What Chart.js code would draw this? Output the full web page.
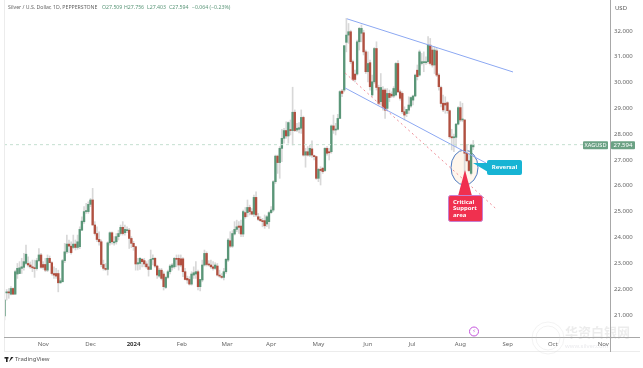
<!DOCTYPE html>
<html>
<head>
<meta charset="utf-8">
<title>XAGUSD</title>
<script src="https://cdn.jsdelivr.net/npm/chart.js@4/dist/chart.umd.js"></script>
<style>
    html, body { margin: 0; padding: 0; background: #fff; }
    canvas { display: block; }
</style>
</head>
<body>
<canvas id="candleChart" width="643" height="368"></canvas>
<script>
// Daily candles (bar 0 = early Oct 2023, last bar = Aug 2024)
const opens = [
    20.96,21.85,21.86,21.80,22.02,21.80,22.58,22.60,22.80,22.84,22.99,22.99,22.93,22.86,22.82,22.79,23.10,23.32,22.95,22.95,
    22.73,23.19,23.02,22.60,22.60,22.60,22.24,22.28,23.10,23.44,23.74,23.66,23.61,23.74,23.61,23.64,24.28,24.61,25.00,25.00,
    25.28,25.45,24.48,24.15,23.92,23.83,22.95,22.80,22.76,23.79,24.18,23.79,23.83,24.03,24.15,24.39,24.18,24.26,24.28,23.96,
    23.77,23.64,22.97,22.99,23.15,23.10,22.97,22.86,22.76,23.15,23.19,22.89,22.50,22.73,22.58,22.06,22.45,22.67,22.84,22.86,
    23.19,23.19,23.17,23.17,22.67,22.41,22.37,22.19,22.54,22.58,22.67,22.09,22.35,22.93,23.38,22.97,22.93,22.86,22.80,22.89,
    22.52,22.48,22.45,22.67,23.12,23.87,23.66,24.13,24.31,24.44,24.44,24.13,24.96,24.96,25.16,25.00,24.90,25.55,24.80,24.70,
    24.65,24.65,24.52,24.61,24.96,25.06,26.16,27.15,26.90,27.45,27.84,28.14,27.93,28.16,28.14,28.85,28.16,28.19,28.23,28.65,
    27.19,27.32,27.19,27.43,27.15,27.13,26.29,26.64,26.68,26.59,27.45,27.32,27.32,28.32,28.16,28.19,28.61,29.67,29.71,31.56,
    31.84,31.97,30.81,30.33,30.33,31.58,31.91,31.93,31.19,30.42,30.77,29.52,30.03,31.32,29.81,29.26,29.71,29.71,29.00,29.58,
    29.55,29.48,29.52,30.74,29.64,29.58,28.87,28.80,28.93,29.09,29.32,29.48,30.48,30.29,30.74,30.77,30.77,30.81,31.45,31.26,
    30.68,31.23,30.29,29.81,29.20,29.20,29.22,28.91,27.90,27.86,27.88,28.39,29.03,28.55,28.55,27.26,26.97,26.48,27.509
];
const highs = [
    21.60,21.98,22.02,22.09,22.05,22.73,22.99,23.06,23.19,23.38,23.70,23.25,23.05,23.12,23.12,23.19,23.57,23.38,23.06,23.19,
    23.32,23.28,23.06,22.86,22.80,22.73,22.41,23.15,23.77,24.09,23.90,23.83,24.09,23.90,24.09,24.41,24.80,25.19,25.32,25.38,
    25.51,25.90,24.61,24.41,24.22,23.90,23.12,22.99,23.83,24.22,24.22,24.03,24.15,24.28,24.48,24.61,24.48,24.41,24.35,24.03,
    23.85,23.66,23.19,23.22,23.19,23.19,23.06,23.12,23.51,23.32,23.22,22.93,22.80,22.80,22.67,22.50,22.73,22.95,22.99,23.22,
    23.32,23.32,23.32,23.22,22.80,22.50,22.48,22.67,22.86,23.06,22.73,22.37,23.12,23.51,23.44,23.10,23.12,23.06,23.02,22.99,
    22.73,22.60,22.80,23.19,23.96,24.22,24.26,24.61,24.67,24.61,24.67,25.06,25.16,25.45,25.25,25.12,25.64,25.77,24.93,24.80,
    24.74,24.87,24.85,25.00,25.19,26.20,27.19,27.19,27.52,28.19,28.23,28.48,28.48,28.55,29.82,28.94,28.42,28.45,28.94,28.70,
    27.45,27.52,27.58,27.74,27.19,27.15,26.68,26.74,26.72,27.48,27.52,27.45,28.36,28.74,28.42,28.77,29.69,29.74,31.43,32.49,
    32.29,32.03,30.87,30.48,31.65,32.14,32.23,32.03,31.26,31.19,30.87,30.29,31.36,31.58,29.90,30.35,29.84,29.77,29.77,29.71,
    29.64,29.84,30.77,30.85,29.71,29.64,29.06,28.96,29.45,29.45,29.52,30.33,30.68,31.26,31.13,31.19,31.00,31.78,31.71,31.39,
    31.39,31.32,30.35,29.86,29.52,29.45,29.26,28.94,28.19,28.00,28.42,29.07,29.26,29.20,28.57,27.58,27.26,27.62,27.756
];
const lows = [
    20.80,21.57,21.64,21.77,21.78,21.80,22.41,22.60,22.60,22.73,22.93,22.86,22.80,22.67,22.45,22.73,23.06,22.80,22.76,22.67,
    22.67,23.02,22.54,22.41,22.41,21.89,22.22,22.28,23.02,23.38,23.41,23.35,23.57,23.51,23.54,23.57,24.26,24.54,24.93,24.93,
    25.19,24.48,24.09,23.83,23.70,22.86,22.73,22.71,22.54,23.70,23.74,23.70,23.74,23.90,24.09,24.09,24.09,24.18,23.57,23.60,
    23.50,22.73,22.73,22.76,22.86,22.86,22.80,22.50,22.76,22.93,22.84,22.41,22.45,22.35,21.96,22.02,22.41,22.58,22.73,22.80,
    22.86,22.73,22.86,22.48,22.35,22.22,22.15,22.15,22.41,22.41,21.96,21.93,22.28,22.89,22.89,22.89,22.80,22.73,22.76,22.50,
    22.45,22.41,22.35,22.60,23.06,23.61,23.61,24.09,24.22,24.15,24.03,24.03,24.74,24.80,24.87,24.87,24.80,24.80,24.65,24.61,
    24.41,24.35,24.42,24.35,24.93,25.00,26.09,26.48,26.29,26.93,27.65,27.84,27.65,27.97,27.58,28.10,28.10,28.05,28.03,27.15,
    26.72,27.15,27.13,27.10,27.00,26.25,26.16,26.03,26.48,26.55,27.19,27.00,27.26,28.03,27.97,28.16,28.61,29.45,29.64,31.19,
    31.52,30.74,30.07,30.03,30.29,31.26,31.58,31.07,30.35,30.03,29.71,29.45,29.97,29.71,29.13,29.13,28.93,28.61,28.93,29.26,
    29.42,29.42,29.48,29.61,29.32,28.80,28.55,28.68,28.80,29.04,29.13,29.45,30.10,30.25,30.68,30.42,30.70,30.74,30.68,30.60,
    30.35,30.23,29.71,29.06,28.87,28.81,28.81,27.84,27.39,27.32,27.52,28.36,28.48,28.48,26.22,26.93,26.55,26.42,27.403
];
const closes = [
    21.57,21.86,21.85,22.02,21.80,22.67,22.80,22.82,22.86,23.06,23.35,22.93,22.86,22.82,22.79,23.10,23.32,22.84,22.84,22.73,
    23.19,23.02,22.60,22.54,22.50,22.24,22.32,23.10,23.44,23.74,23.66,23.41,23.74,23.61,23.83,24.31,24.63,25.00,25.02,25.28,
    25.45,24.48,24.15,23.92,23.83,22.95,22.80,22.76,23.79,24.18,23.83,23.83,24.03,24.15,24.39,24.15,24.31,24.28,23.96,23.77,
    23.64,22.97,23.02,23.19,23.06,22.97,22.86,22.76,23.15,23.19,22.89,22.54,22.73,22.41,22.09,22.45,22.67,22.89,22.93,23.19,
    23.15,22.93,22.93,22.67,22.37,22.35,22.19,22.58,22.63,22.67,22.09,22.37,22.93,23.38,22.95,22.93,22.86,22.80,22.93,22.54,
    22.50,22.45,22.67,23.15,23.90,23.66,24.15,24.31,24.41,24.39,24.13,25.00,24.80,25.16,25.00,24.90,25.55,24.87,24.70,24.65,
    24.61,24.45,24.80,24.96,25.06,26.16,27.15,26.90,27.45,27.84,28.14,27.93,28.45,28.14,28.85,28.14,28.23,28.25,28.65,27.19,
    27.32,27.19,27.45,27.19,27.13,26.29,26.64,26.59,26.55,27.45,27.26,27.28,28.32,28.16,28.19,28.61,29.65,29.58,31.43,31.84,
    31.97,30.81,30.12,30.12,31.58,32.10,32.10,31.19,30.42,30.74,29.84,30.03,31.32,29.81,29.19,29.81,29.04,28.93,29.58,29.42,
    29.48,29.77,30.74,29.64,29.39,28.87,28.74,28.96,29.13,29.42,29.48,30.29,30.23,31.19,30.81,30.81,30.81,31.45,30.74,30.68,
    31.26,30.29,29.84,29.19,28.94,29.13,28.91,27.90,27.86,27.90,28.39,29.03,28.55,28.57,27.26,26.97,26.59,27.58,27.594
];

// Axis labels
const monthLabels = ['Nov', 'Dec', '2024', 'Feb', 'Mar', 'Apr', 'May', 'Jun', 'Jul', 'Aug', 'Sep', 'Oct', 'Nov'];
const monthBars = [18, 40, 60, 82.5, 103.5, 124, 146, 169, 189.5, 212, 234, 255, 278.5];
const priceTicks = [21, 22, 23, 24, 25, 26, 27, 28, 29, 30, 31, 32];

// Drawn trend lines as [bar, price] ends
const channelTop = [[159.3, 32.47], [236.5, 30.41]];
const channelBottom = [[158.4, 29.79], [224, 26.88]];
const supportLine = [[158.4, 30.37], [228.2, 25.14]];

const lastPrice = closes[closes.length - 1];
const xMin = -0.23, xMax = 281.6;

const green = '#5a9678';
const red = '#b15040';
const labelFont = '"Noto Sans", sans-serif';

const toPoints = line => line.map(p => ({ x: p[0], y: p[1] }));

function text(ctx, str, x, y, font, color, align) {
    ctx.font = font;
    ctx.fillStyle = color;
    ctx.textAlign = align || 'left';
    ctx.textBaseline = 'middle';
    ctx.fillText(str, x, y);
}

function roundBox(ctx, x, y, w, h, r, fill, stroke) {
    ctx.beginPath();
    ctx.roundRect(x, y, w, h, r);
    ctx.fillStyle = fill;
    ctx.fill();
    if (stroke) {
        ctx.strokeStyle = stroke;
        ctx.lineWidth = 1;
        ctx.stroke();
    }
}

function triangle(ctx, pts, fill) {
    ctx.beginPath();
    ctx.moveTo(pts[0][0], pts[0][1]);
    ctx.lineTo(pts[1][0], pts[1][1]);
    ctx.lineTo(pts[2][0], pts[2][1]);
    ctx.closePath();
    ctx.fillStyle = fill;
    ctx.fill();
}

// Ellipse sits behind the candles, everything else goes on top
const decorations = {
    id: 'decorations',
    beforeDatasetsDraw(chart) {
        const ctx = chart.ctx;
        ctx.save();
        ctx.beginPath();
        ctx.ellipse(464.5, 167.5, 13.5, 17.5, 0, 0, Math.PI * 2);
        ctx.fillStyle = '#fff6ec';
        ctx.fill();
        ctx.strokeStyle = '#4a78c0';
        ctx.lineWidth = 1;
        ctx.stroke();
        ctx.restore();
    },
    afterDraw(chart) {
        const ctx = chart.ctx;
        const yLast = chart.scales.y.getPixelForValue(lastPrice);
        ctx.save();

        // frame lines
        ctx.strokeStyle = '#ececec';
        ctx.lineWidth = 1;
        ctx.beginPath();
        ctx.moveTo(4.5, 0);
        ctx.lineTo(4.5, 352);
        ctx.moveTo(4, 351.5);
        ctx.lineTo(640, 351.5);
        ctx.stroke();
        ctx.strokeStyle = '#a8a8a8';
        ctx.beginPath();
        ctx.moveTo(610.5, 0);
        ctx.lineTo(610.5, 352);
        ctx.moveTo(4, 337.5);
        ctx.lineTo(640, 337.5);
        ctx.stroke();

        // header
        text(ctx, 'Silver / U.S. Dollar, 1D, PEPPERSTONE', 8, 8, '5.2px ' + labelFont, '#666');
        text(ctx, 'O27.509', 102, 8, '5.2px ' + labelFont, green);
        text(ctx, 'H27.756', 124, 8, '5.2px ' + labelFont, green);
        text(ctx, 'L27.403', 147, 8, '5.2px ' + labelFont, green);
        text(ctx, 'C27.594', 169, 8, '5.2px ' + labelFont, green);
        text(ctx, '\u22120.064 (\u22120.23%)', 192, 8, '5.2px ' + labelFont, green);
        text(ctx, 'USD', 621, 8, '6px ' + labelFont, '#555', 'center');

        // last price tags
        roundBox(ctx, 583, yLast - 3.5, 25, 8, 1, '#6ba184');
        text(ctx, 'XAGUSD', 595.5, yLast + 0.5, '5.6px ' + labelFont, '#fff', 'center');
        roundBox(ctx, 611, yLast - 3.5, 24, 8, 1, '#6ba184');
        text(ctx, lastPrice.toFixed(3), 623, yLast + 0.5, '6px ' + labelFont, '#fff', 'center');

        // Reversal callout
        triangle(ctx, [[473, 163], [488, 163], [488, 172]], '#17b4d4');
        roundBox(ctx, 487, 160, 35, 15, 2, '#17b4d4');
        text(ctx, 'Reversal', 504.5, 167.5, 'bold 6px ' + labelFont, '#fff', 'center');

        // Critical support callout
        triangle(ctx, [[465, 170], [458, 196], [472, 196]], '#f0304f');
        roundBox(ctx, 448.5, 195.5, 34, 26, 2, '#f0304f', '#c77fd0');
        text(ctx, 'Critical', 453, 202, 'bold 6px ' + labelFont, '#fff');
        text(ctx, 'Support', 453, 208.5, 'bold 6px ' + labelFont, '#fff');
        text(ctx, 'area', 453, 215, 'bold 6px ' + labelFont, '#fff');

        // earnings flash marker
        ctx.beginPath();
        ctx.arc(474, 331.5, 4.5, 0, Math.PI * 2);
        ctx.strokeStyle = '#c454dc';
        ctx.lineWidth = 1;
        ctx.stroke();
        text(ctx, '\u26A1', 474, 331.5, '5px "DejaVu Sans"', '#c454dc', 'center');

        // TradingView mark
        ctx.fillStyle = '#222';
        ctx.fillRect(4.5, 357, 4, 1.6);
        ctx.fillRect(6, 357, 1.6, 5);
        triangle(ctx, [[9, 362], [11, 357], [13.5, 357]], '#222');
        text(ctx, 'TradingView', 15, 359.5, '6px ' + labelFont, '#555');

        // watermark
        ctx.globalAlpha = 0.22;
        ctx.strokeStyle = '#c8c8c8';
        ctx.beginPath();
        ctx.arc(548, 338, 16, 0, Math.PI * 2);
        ctx.moveTo(560, 338);
        ctx.arc(548, 338, 12, 0, Math.PI * 2);
        ctx.stroke();
        text(ctx, '\u534E\u8D44\u767D\u94F6\u7F51', 565, 332, 'bold 13px "Noto Sans CJK SC"', '#aaa');
        text(ctx, 'www.silver.com', 565, 346, '6px ' + labelFont, '#99a');
        ctx.restore();
    }
};

new Chart(document.getElementById('candleChart').getContext('2d'), {
    type: 'bar',
    data: {
        datasets: [
            {
                label: 'Wicks',
                order: 3,
                data: closes.map((c, i) => ({ x: i, y: [lows[i], highs[i]] })),
                backgroundColor: '#d8d8d8',
                barThickness: 1,
                grouped: false
            },
            {
                label: 'Bodies',
                order: 2,
                data: closes.map((c, i) => ({ x: i, y: [opens[i], c] })),
                backgroundColor: closes.map((c, i) => c >= opens[i] ? green : red),
                barThickness: 1.7,
                minBarLength: 1,
                grouped: false
            },
            {
                type: 'line',
                label: 'Last price',
                order: 1,
                data: [{ x: xMin, y: lastPrice }, { x: xMax, y: lastPrice }],
                borderColor: '#c4dfd0',
                borderWidth: 1,
                borderDash: [3, 3],
                pointRadius: 0
            },
            {
                type: 'line',
                label: 'Channel top',
                order: 1,
                data: toPoints(channelTop),
                borderColor: '#8ca8f2',
                borderWidth: 1,
                pointRadius: 0
            },
            {
                type: 'line',
                label: 'Channel bottom',
                order: 1,
                data: toPoints(channelBottom),
                borderColor: '#8ca8f2',
                borderWidth: 1,
                pointRadius: 0
            },
            {
                type: 'line',
                label: 'Support',
                order: 1,
                data: toPoints(supportLine),
                borderColor: '#ee8d97',
                borderWidth: 1,
                borderDash: [2, 3],
                pointRadius: 0
            }
        ]
    },
    options: {
        responsive: false,
        animation: false,
        layout: { autoPadding: false, padding: { left: 4, right: 0, top: 0, bottom: 0 } },
        plugins: {
            legend: { display: false },
            title: { display: false },
            tooltip: { enabled: false }
        },
        scales: {
            x: {
                type: 'linear',
                offset: false,
                min: xMin,
                max: xMax,
                grid: { display: false, drawTicks: false },
                border: { display: false },
                afterBuildTicks: axis => { axis.ticks = monthBars.map(value => ({ value })); },
                afterFit: axis => {
                    axis.height = 31;
                    axis.paddingLeft = 0;
                    axis.paddingRight = 0;
                },
                ticks: {
                    autoSkip: false,
                    maxRotation: 0,
                    padding: 3.5,
                    color: ctx => monthLabels[ctx.index] === '2024' ? '#333' : '#666',
                    font: ctx => ({
                        family: labelFont,
                        size: 6,
                        weight: monthLabels[ctx.index] === '2024' ? 'bold' : 'normal'
                    }),
                    callback: (value, index) => monthLabels[index]
                }
            },
            y: {
                position: 'right',
                min: 20.14,
                max: 33.2,
                grid: { display: false, drawTicks: false },
                border: { display: false },
                afterBuildTicks: axis => { axis.ticks = priceTicks.map(value => ({ value })); },
                afterFit: axis => {
                    axis.width = 33;
                    axis.paddingTop = 0;
                    axis.paddingBottom = 0;
                },
                ticks: {
                    padding: 4,
                    color: '#666',
                    font: { family: labelFont, size: 6 },
                    callback: value => value.toFixed(3)
                }
            }
        }
    },
    plugins: [decorations]
});
</script>
</body>
</html>
